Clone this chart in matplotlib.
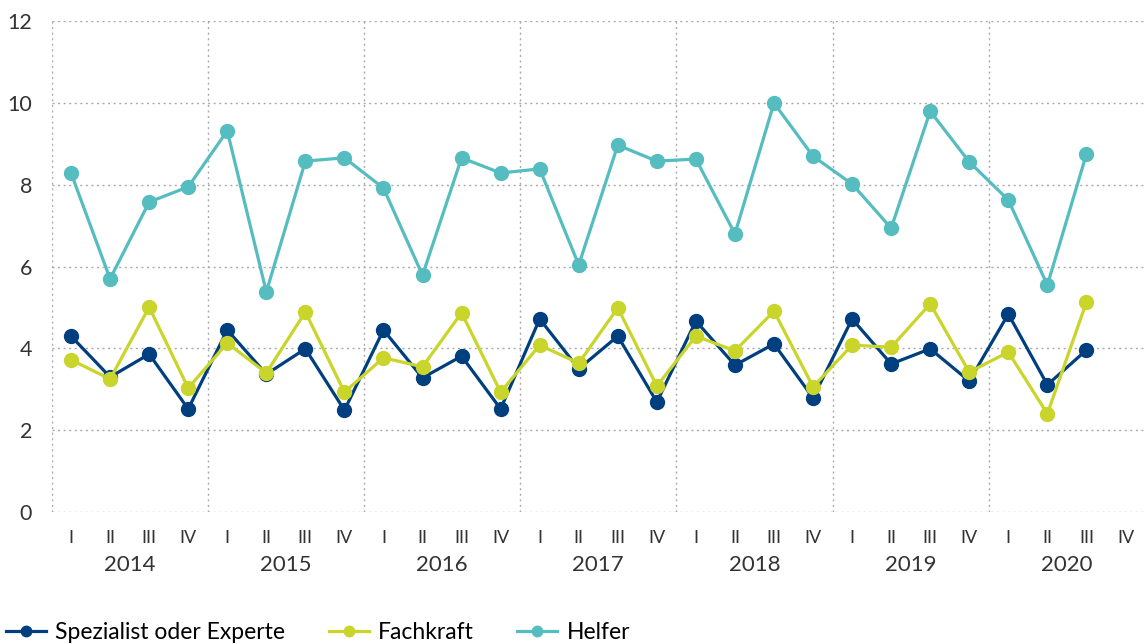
import matplotlib
matplotlib.use("Agg")
import matplotlib.pyplot as plt
import numpy as np

years = ["2014", "2015", "2016", "2017", "2018", "2019", "2020"]
quarters = ["I", "II", "III", "IV"]

spezialist = [4.30, 3.30, 3.86, 2.52,
              4.45, 3.37, 3.99, 2.49,
              4.45, 3.28, 3.81, 2.52,
              4.72, 3.50, 4.30, 2.69,
              4.67, 3.59, 4.11, 2.79,
              4.72, 3.62, 3.99, 3.20,
              4.84, 3.11, 3.96]
fachkraft = [3.72, 3.25, 5.01, 3.03,
             4.13, 3.40, 4.89, 2.93,
             3.77, 3.55, 4.87, 2.93,
             4.08, 3.64, 4.99, 3.08,
             4.30, 3.94, 4.91, 3.06,
             4.08, 4.03, 5.09, 3.42,
             3.91, 2.40, 5.13]
helfer = [8.29, 5.70, 7.58, 7.95,
          9.32, 5.38, 8.58, 8.66,
          7.92, 5.79, 8.66, 8.29,
          8.39, 6.04, 8.97, 8.58,
          8.63, 6.80, 10.00, 8.70,
          8.02, 6.94, 9.80, 8.56,
          7.63, 5.55, 8.75]

series_names = ["Spezialist oder Experte", "Fachkraft", "Helfer"]
colors = ["#003f7f", "#c9d52b", "#55bdc0"]

plt.rcParams['font.family'] = ['Lato', 'DejaVu Sans']

fig = plt.figure(figsize=(11.45, 6.44), dpi=100)
ax = fig.add_axes([0.045, 0.205, 0.955, 0.762])

n_q = len(years) * len(quarters)
x_all = np.arange(n_q)

lines = []
for vals, name, c in zip([spezialist, fachkraft, helfer], series_names, colors):
    x = np.arange(len(vals))
    ln, = ax.plot(x, vals, color=c, lw=2.3, marker='o', ms=10, label=name,
                  solid_joinstyle='round', zorder=3)
    lines.append(ln)

ax.set_xlim(-0.5, n_q - 0.5)
ax.set_ylim(0, 12)
ax.set_yticks(np.arange(0, 13, 2))
ax.tick_params(axis='y', length=0, labelsize=15.5, labelcolor='#333333', pad=14)

ax.set_xticks(x_all)
ax.set_xticklabels(quarters * len(years), fontsize=13, color='#333333')
ax.tick_params(axis='x', length=0, pad=13)

for s in ax.spines.values():
    s.set_visible(False)

grid_kw = dict(color='#aaaaaa', lw=1.0, ls=(0, (1.5, 2.5)), zorder=0)
for yv in np.arange(0, 13, 2):
    ax.axhline(yv, **grid_kw)
for i in range(len(years)):
    ax.axvline(i * 4 - 0.5, **grid_kw)

for i, yr in enumerate(years):
    ax.text(i * 4 + 1.5, -0.088, yr, transform=ax.get_xaxis_transform(),
            ha='center', va='top', fontsize=16, color='#333333')

fig.legend(handles=lines, loc='lower left', bbox_to_anchor=(-0.013, -0.03),
           ncol=3, frameon=False, fontsize=16.5, handlelength=1.75,
           columnspacing=1.9, handletextpad=0.4, markerscale=0.75)

fig.savefig("out.png", dpi=100)
